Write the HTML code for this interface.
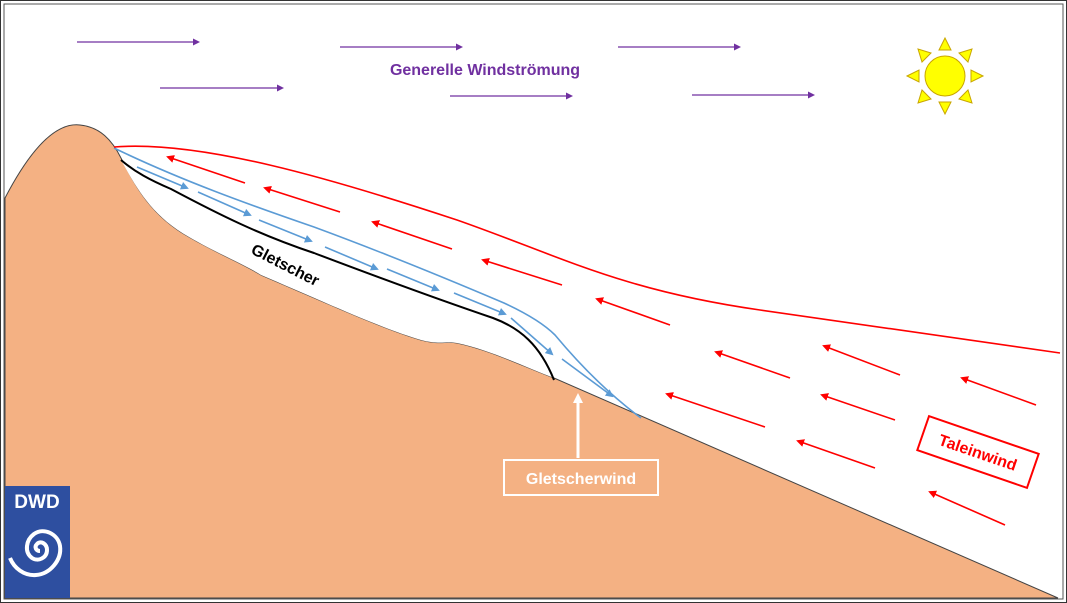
<!DOCTYPE html>
<html><head><style>body{margin:0;background:#fff}svg{display:block}</style></head><body>
<svg width="1067" height="603" viewBox="0 0 1067 603" xmlns="http://www.w3.org/2000/svg" font-family="Liberation Sans, sans-serif">
<defs>
<marker id="r" markerWidth="8" markerHeight="8" refX="6" refY="4" orient="auto" markerUnits="userSpaceOnUse"><path d="M0,0L8,4L0,8Z" fill="#f00"/></marker>
<marker id="b" markerWidth="8" markerHeight="8" refX="6" refY="4" orient="auto" markerUnits="userSpaceOnUse"><path d="M0,0L8,4L0,8Z" fill="#5b9bd5"/></marker>
<marker id="p" markerWidth="7" markerHeight="7" refX="5" refY="3.5" orient="auto" markerUnits="userSpaceOnUse"><path d="M0,0L7,3.5L0,7Z" fill="#7030a0"/></marker>
<marker id="w" markerWidth="10" markerHeight="10" refX="5" refY="5" orient="auto" markerUnits="userSpaceOnUse"><path d="M0,0L10,5L0,10Z" fill="#fff"/></marker>
</defs>
<rect x="0.5" y="0.5" width="1066" height="602" fill="#fff" stroke="#333"/>
<rect x="4" y="4" width="1059" height="595" fill="#fff" stroke="#555"/>
<path d="M5,198 C30,150 55,122 80,125 C100,127 112,140 121,158 C135,185 150,215 189,237 C220,255 240,262 261,275 C320,300 380,328 421,340 C440,345 445,341 457,343 C490,350 520,365 554,378 L1058,598 L5,598 Z" fill="#f4b183" stroke="#444" stroke-width="1"/>
<path d="M121,160 C135,185 150,215 189,237 C220,255 240,262 261,275 C320,300 380,328 421,340 C440,345 445,341 457,343 C490,350 520,365 554,378 C545,350 535,330 493,318 Z" fill="#fff"/>
<path d="M121,160 C135,172 150,180 171,189 C220,215 260,235 314,253 C380,278 440,300 493,318 C520,328 540,345 554,380" fill="none" stroke="#000" stroke-width="2"/>
<path d="M114,148 C180,180 250,205 314,227 C390,255 450,280 504,303 C530,315 545,325 555,335 C580,365 610,395 641,418" fill="none" stroke="#5b9bd5" stroke-width="1.6"/>
<path d="M114,147 C200,140 330,178 457,220 C560,256 620,290 760,310 C900,330 1000,345 1060,353" fill="none" stroke="#f00" stroke-width="1.6"/>
<g stroke="#5b9bd5" stroke-width="1.6" marker-end="url(#b)">
<line x1="137" y1="167" x2="187" y2="188"/><line x1="198" y1="192" x2="250" y2="215"/><line x1="259" y1="220" x2="311" y2="241"/><line x1="325" y1="247" x2="377" y2="269"/><line x1="387" y1="269" x2="438" y2="290"/><line x1="454" y1="293" x2="505" y2="314"/><line x1="511" y1="318" x2="552" y2="354"/><line x1="562" y1="359" x2="612" y2="396"/>
</g>
<g stroke="#f00" stroke-width="1.6" marker-end="url(#r)">
<line x1="245" y1="183" x2="168" y2="157"/><line x1="340" y1="212" x2="265" y2="188"/><line x1="452" y1="249" x2="373" y2="222"/><line x1="562" y1="285" x2="483" y2="260"/><line x1="670" y1="325" x2="597" y2="299"/><line x1="790" y1="378" x2="716" y2="352"/><line x1="900" y1="375" x2="824" y2="346"/><line x1="1036" y1="405" x2="962" y2="378"/><line x1="895" y1="420" x2="822" y2="395"/><line x1="765" y1="427" x2="667" y2="394"/><line x1="875" y1="468" x2="798" y2="441"/><line x1="1005" y1="525" x2="930" y2="492"/>
</g>
<g stroke="#7030a0" stroke-width="1.2" marker-end="url(#p)">
<line x1="77" y1="42" x2="198" y2="42"/><line x1="160" y1="88" x2="282" y2="88"/><line x1="340" y1="47" x2="461" y2="47"/><line x1="450" y1="96" x2="571" y2="96"/><line x1="618" y1="47" x2="739" y2="47"/><line x1="692" y1="95" x2="813" y2="95"/>
</g>
<text x="485" y="75" text-anchor="middle" font-size="16" font-weight="bold" fill="#7030a0">Generelle Windströmung</text>
<text x="250" y="253" font-size="16" font-weight="bold" fill="#000" transform="rotate(27 250 253)">Gletscher</text>
<g fill="#ffff00" stroke="#c9a600" stroke-width="1">
<circle cx="945" cy="76" r="20"/>
<path d="M945,38 l-6,12 h12Z"/><path d="M945,114 l-6,-12 h12Z"/><path d="M907,76 l12,-6 v12Z"/><path d="M983,76 l-12,-6 v12Z"/>
<path d="M918,49 l4,13 l9,-9Z"/><path d="M972,49 l-4,13 l-9,-9Z"/><path d="M918,103 l4,-13 l9,9Z"/><path d="M972,103 l-4,-13 l-9,9Z"/>
</g>
<line x1="578" y1="458" x2="578" y2="398" stroke="#fff" stroke-width="3" marker-end="url(#w)"/>
<rect x="504" y="460" width="154" height="35" fill="none" stroke="#fff" stroke-width="2"/>
<text x="581" y="484" text-anchor="middle" font-size="16" font-weight="bold" fill="#fff">Gletscherwind</text>
<g transform="rotate(19 978 452)">
<rect x="920" y="434" width="116" height="36" fill="#fff" stroke="#f00" stroke-width="2"/>
<text x="978" y="458" text-anchor="middle" font-size="16" font-weight="bold" fill="#f00">Taleinwind</text>
</g>
<rect x="5" y="486" width="65" height="112" fill="#2e4fa0"/>
<text x="37" y="508" text-anchor="middle" font-size="19" font-weight="bold" fill="#fff">DWD</text>
<path d="M40,551 C36,551 34,547 37,544 C41,540 47,544 47,550 C47,558 38,562 32,558 C24,552 26,540 34,534 C44,527 58,534 60,546 C62,560 50,574 36,575 C24,576 14,568 10,558" fill="none" stroke="#fff" stroke-width="4"/>
</svg>
</body></html>
